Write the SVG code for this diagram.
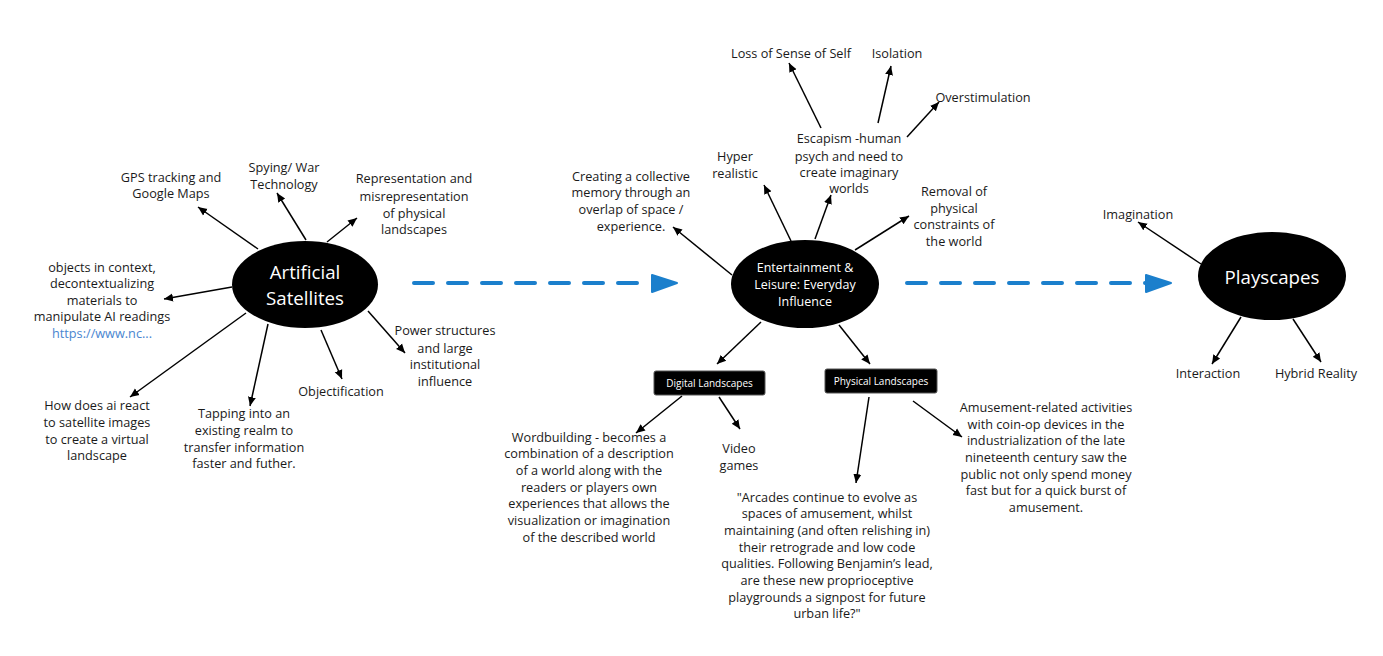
<svg xmlns="http://www.w3.org/2000/svg" width="1383" height="656" viewBox="0 0 1383 656">
<style>
.t{font-family:"Open Sans","Noto Sans","DejaVu Sans",sans-serif;font-size:12.7px;fill:#1a1a1a;text-anchor:middle;dominant-baseline:central}
.w{font-family:"Open Sans","Noto Sans","DejaVu Sans",sans-serif;fill:#ffffff;text-anchor:middle;dominant-baseline:central}
.lnk{fill:#4a86d0}
.c{stroke:#000;stroke-width:1.5;fill:none;marker-end:url(#ah)}
.d{stroke:#1b7fcc;stroke-width:4;fill:none;stroke-linecap:round;stroke-dasharray:19 15}
</style>
<defs>
<marker id="ah" markerUnits="userSpaceOnUse" markerWidth="10" markerHeight="10" viewBox="0 0 10 10" refX="9" refY="5" orient="auto">
<path d="M0,1 L9,5 L0,9 Z" fill="#000"/>
</marker>
</defs>
<rect width="1383" height="656" fill="#fff"/>

<g id="connectors">
<path class="d" d="M414,283 H652"/>
<path d="M652,275 L677,283 L652,292 Z" fill="#1b7fcc" stroke="#1b7fcc" stroke-width="2" stroke-linejoin="round"/>
<path class="d" d="M907,283 H1146"/>
<path d="M1146,275 L1171,283 L1146,292 Z" fill="#1b7fcc" stroke="#1b7fcc" stroke-width="2" stroke-linejoin="round"/>
<line class="c" x1="258" y1="249" x2="198" y2="207"/>
<line class="c" x1="306" y1="240" x2="277" y2="193"/>
<line class="c" x1="327" y1="242" x2="357" y2="218"/>
<line class="c" x1="232" y1="287" x2="164" y2="299"/>
<line class="c" x1="246" y1="313" x2="130" y2="397"/>
<line class="c" x1="268" y1="324" x2="250" y2="406"/>
<line class="c" x1="321" y1="330" x2="342" y2="379"/>
<line class="c" x1="368" y1="311" x2="405" y2="353"/>
<line class="c" x1="821" y1="128" x2="789" y2="63"/>
<line class="c" x1="878" y1="123" x2="891" y2="66"/>
<line class="c" x1="907" y1="137" x2="939" y2="102"/>
<line class="c" x1="732" y1="275" x2="673" y2="227"/>
<line class="c" x1="791" y1="241" x2="764" y2="185"/>
<line class="c" x1="815" y1="239" x2="831" y2="195"/>
<line class="c" x1="855" y1="250" x2="909" y2="216"/>
<line class="c" x1="761" y1="322" x2="717" y2="364"/>
<line class="c" x1="839" y1="325" x2="870" y2="364"/>
<line class="c" x1="682" y1="396" x2="636" y2="433"/>
<line class="c" x1="719" y1="397" x2="740" y2="429"/>
<line class="c" x1="869" y1="397" x2="856" y2="483"/>
<line class="c" x1="913" y1="401" x2="962" y2="437"/>
<line class="c" x1="1201" y1="264" x2="1138" y2="222"/>
<line class="c" x1="1241" y1="317" x2="1212" y2="364"/>
<line class="c" x1="1293" y1="319" x2="1321" y2="362"/>
</g>

<g id="artificial-satellites">
<ellipse cx="305" cy="284.5" rx="73" ry="43.5" fill="#000"/>
<text class="w" font-size="18.7" x="305" y="271">Artificial</text>
<text class="w" font-size="18.7" x="305" y="297">Satellites</text>
</g>
<g id="gps"><text class="t" x="171" y="177">GPS tracking and</text><text class="t" x="171" y="193">Google Maps</text></g>
<g id="spying"><text class="t" x="284" y="167">Spying/ War</text><text class="t" x="284" y="184">Technology</text></g>
<g id="representation"><text class="t" x="414" y="178">Representation and</text><text class="t" x="414" y="196">misrepresentation</text><text class="t" x="414" y="213">of physical</text><text class="t" x="414" y="229">landscapes</text></g>
<g id="objects"><text class="t" x="102" y="267">objects in context,</text><text class="t" x="102" y="283">decontextualizing</text><text class="t" x="102" y="300">materials to</text><text class="t" x="102" y="316">manipulate AI readings</text><text class="t lnk" x="102" y="333">https://www.nc...</text></g>
<g id="how-does"><text class="t" x="97" y="405">How does ai react</text><text class="t" x="97" y="422">to satellite images</text><text class="t" x="97" y="439">to create a virtual</text><text class="t" x="97" y="455">landscape</text></g>
<g id="tapping"><text class="t" x="244" y="413">Tapping into an</text><text class="t" x="244" y="430">existing realm to</text><text class="t" x="244" y="447">transfer information</text><text class="t" x="244" y="463">faster and futher.</text></g>
<g id="objectification"><text class="t" x="341" y="391">Objectification</text></g>
<g id="power"><text class="t" x="445" y="330">Power structures</text><text class="t" x="445" y="348">and large</text><text class="t" x="445" y="364">institutional</text><text class="t" x="445" y="381">influence</text></g>

<g id="entertainment">
<ellipse cx="805" cy="284" rx="74" ry="44" fill="#000"/>
<text class="w" font-size="12.5" x="805" y="267">Entertainment &amp;</text>
<text class="w" font-size="12.5" x="805" y="284">Leisure: Everyday</text>
<text class="w" font-size="12.5" x="805" y="301">Influence</text>
</g>
<g id="loss"><text class="t" x="791" y="53">Loss of Sense of Self</text></g>
<g id="isolation"><text class="t" x="897" y="53">Isolation</text></g>
<g id="overstimulation"><text class="t" x="983" y="97">Overstimulation</text></g>
<g id="escapism"><text class="t" x="849" y="138">Escapism -human</text><text class="t" x="849" y="156">psych and need to</text><text class="t" x="849" y="172">create imaginary</text><text class="t" x="849" y="188">worlds</text></g>
<g id="hyper"><text class="t" x="735" y="156">Hyper</text><text class="t" x="735" y="173">realistic</text></g>
<g id="creating"><text class="t" x="631" y="176">Creating a collective</text><text class="t" x="631" y="192">memory through an</text><text class="t" x="631" y="209">overlap of space /</text><text class="t" x="631" y="226">experience.</text></g>
<g id="removal"><text class="t" x="954" y="191">Removal of</text><text class="t" x="954" y="208">physical</text><text class="t" x="954" y="224">constraints of</text><text class="t" x="954" y="241">the world</text></g>

<g id="digital">
<rect x="654" y="371" width="111" height="24" rx="2" fill="#000" stroke="#555" stroke-width="1"/>
<text class="w" font-size="10" x="709.5" y="383">Digital Landscapes</text>
</g>
<g id="physical">
<rect x="825" y="369" width="112" height="24" rx="2" fill="#000" stroke="#555" stroke-width="1"/>
<text class="w" font-size="10" x="881" y="381">Physical Landscapes</text>
</g>
<g id="wordbuilding"><text class="t" x="589" y="437">Wordbuilding - becomes a</text><text class="t" x="589" y="453">combination of a description</text><text class="t" x="589" y="470">of a world along with the</text><text class="t" x="589" y="487">readers or players own</text><text class="t" x="589" y="503">experiences that allows the</text><text class="t" x="589" y="520">visualization or imagination</text><text class="t" x="589" y="537">of the described world</text></g>
<g id="video"><text class="t" x="739" y="448">Video</text><text class="t" x="739" y="465">games</text></g>
<g id="arcades"><text class="t" x="827" y="497">"Arcades continue to evolve as</text><text class="t" x="827" y="513">spaces of amusement, whilst</text><text class="t" x="827" y="530">maintaining (and often relishing in)</text><text class="t" x="827" y="547">their retrograde and low code</text><text class="t" x="827" y="563">qualities. Following Benjamin’s lead,</text><text class="t" x="827" y="580">are these new proprioceptive</text><text class="t" x="827" y="597">playgrounds a signpost for future</text><text class="t" x="827" y="613">urban life?"</text></g>
<g id="amusement"><text class="t" x="1046" y="407">Amusement-related activities</text><text class="t" x="1046" y="424">with coin-op devices in the</text><text class="t" x="1046" y="440">industrialization of the late</text><text class="t" x="1046" y="457">nineteenth century saw the</text><text class="t" x="1046" y="474">public not only spend money</text><text class="t" x="1046" y="490">fast but for a quick burst of</text><text class="t" x="1046" y="507">amusement.</text></g>

<g id="playscapes">
<ellipse cx="1272" cy="276" rx="74" ry="44" fill="#000"/>
<text class="w" font-size="18.7" x="1272" y="276">Playscapes</text>
</g>
<g id="imagination"><text class="t" x="1138" y="214">Imagination</text></g>
<g id="interaction"><text class="t" x="1208" y="373">Interaction</text></g>
<g id="hybrid"><text class="t" x="1316" y="373">Hybrid Reality</text></g>
</svg>
